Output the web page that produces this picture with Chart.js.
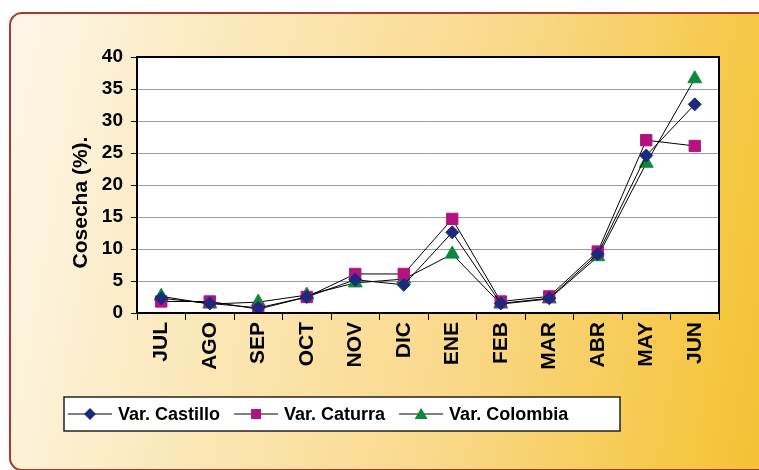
<!DOCTYPE html>
<html lang="es">
<head>
    <meta charset="UTF-8">
    <title>Cosecha (%)</title>
    <script src="https://cdn.jsdelivr.net/npm/chart.js"></script>
    <style>
        body {
            margin: 0;
            background: #ffffff;
            font-family: "Liberation Sans", Arial, sans-serif;
        }
        #wrap {
            position: relative;
            width: 759px;
            height: 470px;
            overflow: hidden;
        }
        #panel {
            position: absolute;
            left: 9px;
            top: 12px;
            width: 770px;
            height: 455px;
            border: 2px solid #a8392b;
            border-radius: 13px;
            background: linear-gradient(100deg, #fdf6e9 0%, #fbe7b6 30%, #f9d888 60%, #f5c640 90%, #f4c030 100%);
        }
        /* white plot background, same box as the chart area */
        #plotBg {
            position: absolute;
            left: 137px;
            top: 57px;
            width: 582px;
            height: 256px;
            background: #fff;
        }
        #cosechaChart {
            position: absolute;
            left: 0;
            top: 0;
        }
    </style>
</head>
<body>
<div id="wrap">
    <div id="panel"></div>
    <div id="plotBg"></div>
    <canvas id="cosechaChart" width="759" height="470"></canvas>
</div>

<script>
    // months (Jul -> Jun)
    const months = ["JUL", "AGO", "SEP", "OCT", "NOV", "DIC", "ENE", "FEB", "MAR", "ABR", "MAY", "JUN"];

    // harvest share per month, %
    const castillo = [2.3, 1.5, 0.8, 2.5, 5.2, 4.4, 12.6, 1.5, 2.3, 9.2, 24.6, 32.6];
    const caturra  = [1.8, 1.8, 0.6, 2.5, 6.1, 6.1, 14.7, 1.8, 2.6, 9.6, 27.0, 26.1];
    const colombia = [2.6, 1.4, 1.7, 2.8, 4.7, 5.3, 9.2, 1.4, 2.2, 8.8, 23.4, 36.6];

    const yTicks = [0, 5, 10, 15, 20, 25, 30, 35, 40];

    const FONT = "'Liberation Sans', Arial, sans-serif";

    // white plot area, frame around it, boxed legend
    const framePlugin = {
        id: "plotFrame",
        beforeDraw(chart) {
            const { ctx, chartArea } = chart;
            ctx.save();
            ctx.fillStyle = "#fff";
            ctx.fillRect(chartArea.left, chartArea.top, chartArea.width, chartArea.height);
            ctx.restore();
        },
        afterDatasetsDraw(chart) {
            const { ctx, chartArea } = chart;
            ctx.save();
            ctx.strokeStyle = "#000";
            ctx.lineWidth = 2;
            ctx.strokeRect(chartArea.left, chartArea.top, chartArea.width, chartArea.height);
            ctx.restore();
        },
        afterDraw(chart) {
            const ctx = chart.ctx;
            ctx.save();
            ctx.fillStyle = "#fff";
            ctx.fillRect(64, 397, 556, 34);
            ctx.strokeStyle = "#222";
            ctx.lineWidth = 1.5;
            ctx.strokeRect(64, 397, 556, 34);

            ctx.font = "bold 18px " + FONT;
            ctx.textBaseline = "middle";
            let x = 68;
            const y = 414;
            chart.data.datasets.forEach(ds => {
                ctx.strokeStyle = "#000";
                ctx.lineWidth = 1;
                ctx.beginPath();
                ctx.moveTo(x, y);
                ctx.lineTo(x + 44, y);
                ctx.stroke();
                drawMarker(ctx, ds.pointStyle, x + 22, y, ds.pointBackgroundColor);
                ctx.fillStyle = "#000";
                ctx.fillText(ds.label, x + 50, y + 1);
                x += 50 + ctx.measureText(ds.label).width + 14;
            });
            ctx.restore();
        }
    };

    function drawMarker(ctx, style, x, y, color) {
        ctx.fillStyle = color;
        ctx.beginPath();
        if (style === "rectRot") {
            ctx.moveTo(x, y - 6);
            ctx.lineTo(x + 6, y);
            ctx.lineTo(x, y + 6);
            ctx.lineTo(x - 6, y);
        } else if (style === "rect") {
            ctx.rect(x - 5, y - 5, 10, 10);
        } else {
            ctx.moveTo(x, y - 6);
            ctx.lineTo(x + 6.5, y + 5);
            ctx.lineTo(x - 6.5, y + 5);
        }
        ctx.closePath();
        ctx.fill();
    }

    function series(label, data, color, style, radius) {
        return {
            label: label,
            data: data,
            borderColor: "#000",
            borderWidth: 1,
            pointStyle: style,
            pointRadius: radius,
            pointHoverRadius: radius,
            pointBackgroundColor: color,
            pointBorderColor: color,
            pointBorderWidth: 1,
            tension: 0
        };
    }

    new Chart(document.getElementById("cosechaChart"), {
        type: "line",
        data: {
            labels: months,
            datasets: [
                series("Var. Castillo", castillo, "#1b2a7e", "rectRot", 6.5),
                series("Var. Caturra", caturra, "#b3127f", "rect", 8),
                series("Var. Colombia", colombia, "#0b8a3a", "triangle", 8)
            ]
        },
        options: {
            responsive: false,
            animation: false,
            layout: {
                padding: { left: 60, top: 57, right: 40, bottom: 87 }
            },
            plugins: {
                legend: { display: false },
                tooltip: { enabled: false }
            },
            scales: {
                x: {
                    offset: true,
                    grid: {
                        offset: true,
                        drawOnChartArea: false,
                        drawTicks: true,
                        tickLength: 7,
                        tickColor: "#000"
                    },
                    border: { display: true, color: "#000", width: 2 },
                    ticks: {
                        color: "#000",
                        font: { family: FONT, size: 21, weight: "bold" },
                        minRotation: 90,
                        maxRotation: 90,
                        padding: 2
                    },
                    afterFit(scale) { scale.height = 70; }
                },
                y: {
                    min: 0,
                    max: 40,
                    afterBuildTicks(scale) {
                        scale.ticks = yTicks.map(v => ({ value: v }));
                    },
                    grid: {
                        color: "#9a9a9a",
                        lineWidth: 1,
                        borderDash: [1, 1],
                        tickColor: "#000",
                        tickBorderDash: [],
                        tickLength: 6
                    },
                    border: { display: true, color: "#000", width: 2 },
                    ticks: {
                        color: "#000",
                        font: { family: FONT, size: 19, weight: "bold" },
                        padding: 8
                    },
                    title: {
                        display: true,
                        // trailing spaces push the visible text down, as in the original
                        text: "Cosecha (%).      ",
                        color: "#000",
                        font: { family: FONT, size: 21, weight: "bold" },
                        padding: { top: 9, bottom: 0 }
                    },
                    afterFit(scale) { scale.width = 77; }
                }
            }
        },
        plugins: [framePlugin]
    });
</script>
</body>
</html>
